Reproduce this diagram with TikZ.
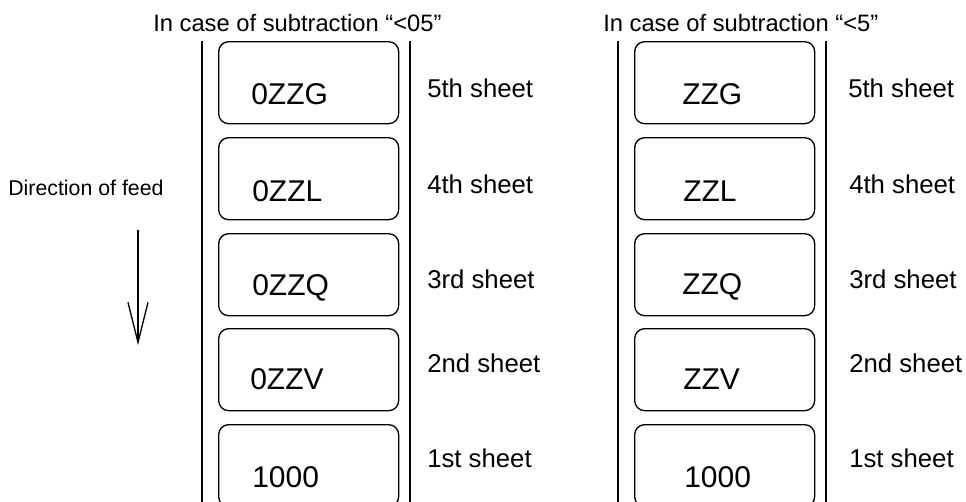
\documentclass[tikz,border=0pt]{standalone}
\usepackage{fontspec}
\setmainfont{Liberation Sans}
\usetikzlibrary{arrows.meta}
\begin{document}
\begin{tikzpicture}[x=0.75pt,y=-0.75pt,
  sheetbox/.style={draw,line width=1pt,rounded corners=7.5pt,minimum width=135pt,minimum height=61.5pt,inner sep=0pt,anchor=north west},
  codetext/.style={anchor=base west,inner sep=0pt,font=\fontsize{22.5}{26}\selectfont},
  sheetlabel/.style={anchor=base west,inner sep=0pt,font=\fontsize{19.3}{23}\selectfont},
  titletext/.style={anchor=base west,inner sep=0pt,font=\fontsize{17.8}{21}\selectfont},
  feedtext/.style={anchor=base west,inner sep=0pt,font=\fontsize{16}{19}\selectfont},
  rail/.style={line width=1pt},
  feedarrow/.style={line width=1pt,-{Straight Barb[length=30pt,width=15pt,line width=1pt]}}]
\useasboundingbox (0,0) rectangle (966,501);
% titles
\node[titletext] (t1) at (153,31) {In case of subtraction “<05”};
\node[titletext] (t2) at (603,31) {In case of subtraction “<5”};
% direction
\node[feedtext] (feed) at (8,195) {Direction of feed};
\coordinate (fa) at (138,230);
\coordinate (fb) at (138,345);
\draw[feedarrow] (fa) -- (fb);
% rails
\coordinate (l1t) at (202,41); \coordinate (l1b) at (202,505);
\coordinate (l2t) at (410,41); \coordinate (l2b) at (410,505);
\coordinate (r1t) at (618,41); \coordinate (r1b) at (618,505);
\coordinate (r2t) at (826,41); \coordinate (r2b) at (826,505);
\draw[rail] (l1t) -- (l1b);
\draw[rail] (l2t) -- (l2b);
\draw[rail] (r1t) -- (r1b);
\draw[rail] (r2t) -- (r2b);
% left boxes
\node[sheetbox] (L5) at (218,41) {};
\node[sheetbox] (L4) at (218,137) {};
\node[sheetbox] (L3) at (218,233) {};
\node[sheetbox] (L2) at (218,328) {};
\node[sheetbox] (L1) at (218,424) {};
% right boxes
\node[sheetbox] (R5) at (634,41) {};
\node[sheetbox] (R4) at (634,137) {};
\node[sheetbox] (R3) at (634,233) {};
\node[sheetbox] (R2) at (634,328) {};
\node[sheetbox] (R1) at (634,424) {};
% left codes
\node[codetext] (c5) at (251,104) {0ZZG};
\node[codetext] (c4) at (252,201) {0ZZL};
\node[codetext] (c3) at (252,295) {0ZZQ};
\node[codetext] (c2) at (250,389) {0ZZV};
\node[codetext] (c1) at (252,487) {1000};
% right codes
\node[codetext] (d5) at (682,104) {ZZG};
\node[codetext] (d4) at (683,201) {ZZL};
\node[codetext] (d3) at (682,294) {ZZQ};
\node[codetext] (d2) at (683,389) {ZZV};
\node[codetext] (d1) at (684,487) {1000};
% left labels
\node[sheetlabel] (s5) at (427,97) {5th sheet};
\node[sheetlabel] (s4) at (427,193) {4th sheet};
\node[sheetlabel] (s3) at (427,288) {3rd sheet};
\node[sheetlabel] (s2) at (427,372) {2nd sheet};
\node[sheetlabel] (s1) at (427,467) {1st sheet};
% right labels
\node[sheetlabel] (u5) at (848,97) {5th sheet};
\node[sheetlabel] (u4) at (849,193) {4th sheet};
\node[sheetlabel] (u3) at (849,288) {3rd sheet};
\node[sheetlabel] (u2) at (849,372) {2nd sheet};
\node[sheetlabel] (u1) at (849,467) {1st sheet};
\end{tikzpicture}
\end{document}
